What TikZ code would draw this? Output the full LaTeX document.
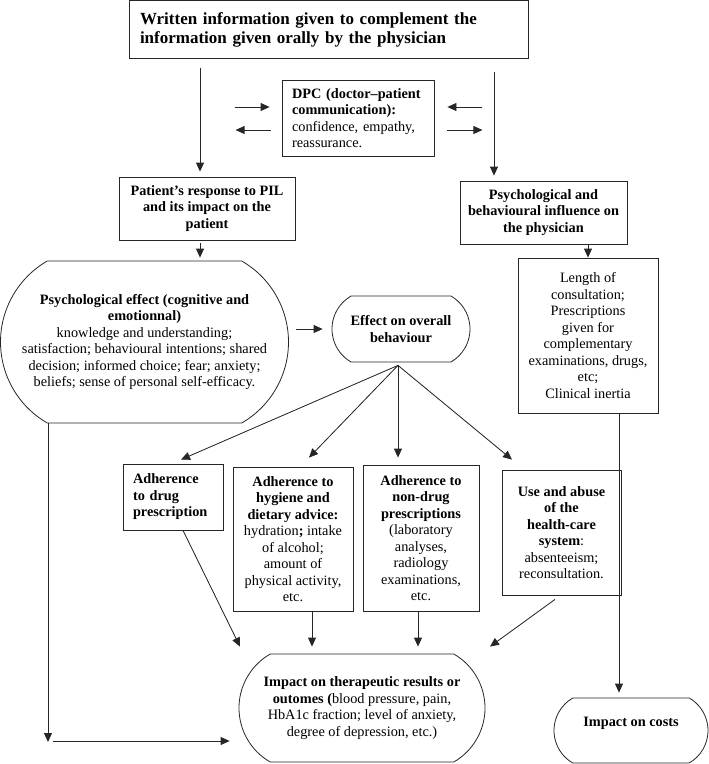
\documentclass[tikz,border=0pt]{standalone}
\usepackage{fontspec}
\setmainfont{Liberation Serif}
\usetikzlibrary{arrows.meta,shapes.misc}

\begin{document}
\begin{tikzpicture}[
  x=1pt, y=-1pt,
  every node/.style={font=\fontsize{14.3}{16.5}\selectfont, inner sep=0pt},
  box/.style={draw=black!85, line width=0.8pt, align=center},
  roundbox/.style={draw=black!85, line width=0.8pt, rounded rectangle,
    rounded rectangle arc length=120, align=center},
  conn/.style={-{Triangle[length=9pt,width=8pt]}, draw=black!85, fill=black!85, line width=0.8pt}
]
\useasboundingbox (0,0) rectangle (709,764);

% Top node
\node[box, minimum width=399pt, minimum height=58pt, text width=377pt, align=left,
  font=\bfseries\fontsize{17}{19}\selectfont] (top) at (328.5,29.5)
  {Written information given to complement the\\information given orally by the physician};

% Communication box
\node[box, minimum width=152pt, minimum height=76pt, text width=132pt, align=left] (dpc) at (358,118)
  {\textbf{DPC (doctor–patient}\\\textbf{communication):}\\confidence, empathy,\\reassurance.};

\node[box, minimum width=176pt, minimum height=63pt, font=\bfseries\fontsize{14.3}{16.5}\selectfont] (pat) at (207,208.5)
  {Patient's response to PIL\\and its impact on the\\patient};
\node[box, minimum width=167pt, minimum height=63pt, font=\bfseries\fontsize{14.3}{16.5}\selectfont] (inf) at (543.5,212.5)
  {Psychological and\\behavioural influence on\\the physician};

\node[roundbox, minimum width=288pt, minimum height=162pt] (psy) at (144.5,342)
  {\textbf{Psychological effect (cognitive and}\\\textbf{emotionnal)}\\knowledge and understanding;\\satisfaction; behavioural intentions; shared\\decision; informed choice; fear; anxiety;\\beliefs; sense of personal self-efficacy.};
\node[roundbox, minimum width=138pt, minimum height=66pt, font=\bfseries\fontsize{14.3}{16.5}\selectfont] (eff) at (401,329)
  {Effect on overall\\behaviour};
\node[box, minimum width=140pt, minimum height=155pt] (len) at (588,335.5)
  {Length of\\consultation;\\Prescriptions\\given for\\complementary\\examinations, drugs,\\etc;\\Clinical inertia};

% Adherence boxes
\node[box, minimum width=100pt, minimum height=66pt, text width=80pt, align=left,
  font=\bfseries\fontsize{14.3}{16.5}\selectfont] (drug) at (173,497)
  {Adherence\\to drug\\prescription};
\node[box, minimum width=120pt, minimum height=144pt] (hyg) at (293,539)
  {\textbf{Adherence to}\\\textbf{hygiene and}\\\textbf{dietary advice:}\\hydration\textbf{;} intake\\of alcohol;\\amount of\\physical activity,\\etc.};
\node[box, minimum width=116pt, minimum height=146pt] (nondrug) at (421,538)
  {\textbf{Adherence to}\\\textbf{non-drug}\\\textbf{prescriptions}\\(laboratory\\analyses,\\radiology\\examinations,\\etc.};
\node[box, minimum width=119pt, minimum height=125pt] (use) at (561.5,532.5)
  {\textbf{Use and abuse}\\\textbf{of the}\\\textbf{health-care}\\\textbf{system}:\\absenteeism;\\reconsultation.};

% Outcomes
\node[roundbox, minimum width=246pt, minimum height=108pt] (imp) at (362,708)
  {\textbf{Impact on therapeutic results or}\\\textbf{outomes (}blood pressure, pain,\\HbA1c fraction; level of anxiety,\\degree of depression, etc.)};
\node[roundbox, minimum width=154pt, minimum height=65pt] (costs) at (631,730.5)
  {\textbf{Impact on costs}\\~};

\coordinate (colL) at (200,0);
\coordinate (colR) at (494,0);
\coordinate (fan) at ([shift={(-3,3)}]eff.south);
\coordinate (low) at (48,741);

% Arrows
\draw[conn, shorten <=9pt, shorten >=5pt] (top.south -| colL) -- (pat.north -| colL);
\draw[conn, shorten <=13pt, shorten >=5pt] (top.south -| colR) -- (inf.north -| colR);
\draw[conn] ([shift={(-47,-11)}]dpc.west) -- ([shift={(-12,-11)}]dpc.west);
\draw[conn] ([shift={(-11,12)}]dpc.west) -- ([shift={(-46,12)}]dpc.west);
\draw[conn] ([shift={(48,-11)}]dpc.east) -- ([shift={(13,-11)}]dpc.east);
\draw[conn] ([shift={(13,12)}]dpc.east) -- ([shift={(48,12)}]dpc.east);
\draw[conn, shorten <=3pt, shorten >=3pt] (pat.south -| colL) -- (psy.north -| colL);
\draw[conn, shorten <=7pt, shorten >=9pt] (eff.west -| psy.east) -- (eff.west);
\draw[conn] (inf.south -| len.north) -- (len.north);

\foreach \t/\dx/\dy in {drug/8/-4, hyg/16/-9, nondrug/-23/-7, use/-49.5/-10}
  \draw[conn] (fan) -- ([shift={(\dx,\dy)}]\t.north);

\draw[conn] ([xshift=10pt]drug.south) -- ([shift={(-122,-7)}]imp.north);
\draw[conn, shorten >=7pt] ([xshift=19pt]hyg.south) -- ([xshift=19pt]hyg.south |- imp.north);
\draw[conn, shorten >=7pt] ([xshift=-3pt]nondrug.south) -- ([xshift=-3pt]nondrug.south |- imp.north);
\draw[conn] ([shift={(-6.5,4)}]use.south) -- ([shift={(128,-7)}]imp.north);
\draw[conn, shorten >=5pt] ([xshift=31pt]len.south) -- ([xshift=31pt]len.south |- costs.north);
\draw[conn] (psy.south -| low) -- ([yshift=-1pt]low);
\draw[conn] ([xshift=5pt]low) -- ([xshift=-9pt]imp.west |- low);
\end{tikzpicture}
\end{document}
